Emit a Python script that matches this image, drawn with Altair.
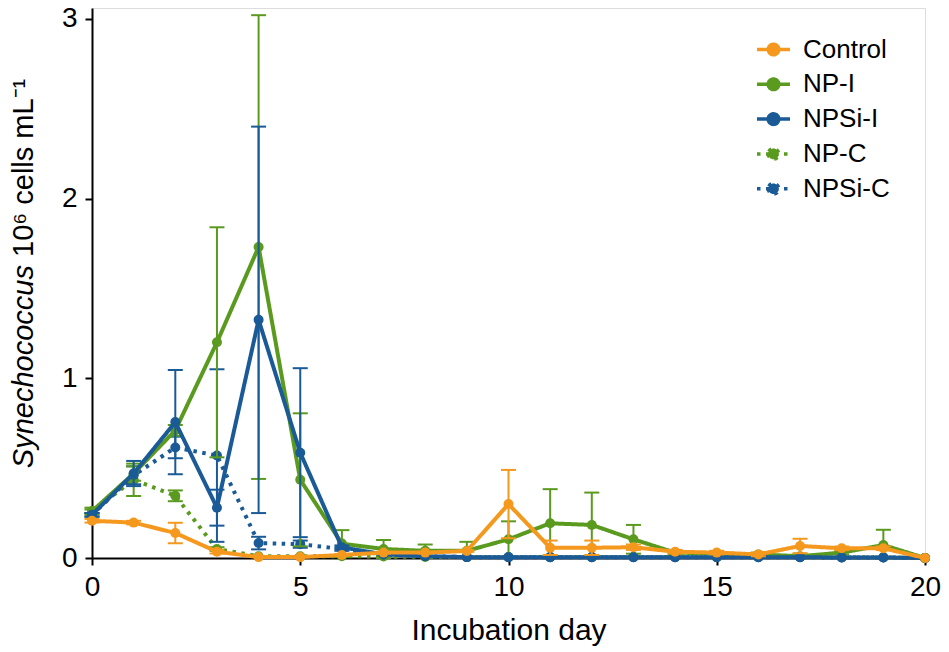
import altair as alt
import pandas as pd

days = list(range(21))

series_names = ["Control", "NP-I", "NPSi-I", "NP-C", "NPSi-C"]
series_colors = ["#F5981E", "#5A9A1E", "#1A5A96", "#5A9A1E", "#1A5A96"]
series_dash = [[1, 0], [1, 0], [1, 0], [3.5, 5.5], [3.5, 5.5]]
draw_order = ["NP-C", "NPSi-C", "NP-I", "NPSi-I", "Control"]

control = [0.207, 0.197, 0.139, 0.035, 0.005, 0.005, 0.017, 0.03, 0.03, 0.039, 0.30,
           0.057, 0.057, 0.06, 0.035, 0.03, 0.02, 0.067, 0.054, 0.054, 0.0]
control_err = [0.01, 0.01, 0.057, 0.01, 0.0, 0.0, 0.005, 0.005, 0.005, 0.005, 0.19,
               0.04, 0.04, 0.015, 0.01, 0.01, 0.01, 0.04, 0.01, 0.01, 0.0]

np_i = [0.26, 0.47, 0.71, 1.20, 1.73, 0.435, 0.08, 0.05, 0.04, 0.04, 0.104,
        0.193, 0.184, 0.104, 0.03, 0.025, 0.02, 0.01, 0.03, 0.072, 0.0]
np_i_err = [0.02, 0.04, 0.03, 0.64, 1.29, 0.37, 0.075, 0.05, 0.035, 0.05, 0.10,
            0.19, 0.18, 0.08, 0.01, 0.01, 0.01, 0.01, 0.01, 0.085, 0.0]

npsi_i = [0.24, 0.47, 0.756, 0.28, 1.325, 0.586, 0.06, 0.02, 0.01, 0.005, 0.004,
          0.004, 0.004, 0.004, 0.004, 0.004, 0.004, 0.004, 0.003, 0.003, 0.0]
npsi_i_err = [0.01, 0.07, 0.29, 0.10, 1.075, 0.47, 0.01, 0.0, 0.0, 0.0, 0.0,
              0.0, 0.0, 0.0, 0.0, 0.0, 0.0, 0.0, 0.0, 0.0, 0.0]

np_c = [0.26, 0.435, 0.346, 0.05, 0.01, 0.01, 0.01, 0.008, 0.006, 0.005, 0.005,
        0.005, 0.005, 0.005, 0.005, 0.005, 0.005, 0.005, 0.004, 0.004, 0.0]
np_c_err = [0.01, 0.09, 0.03, 0.01, 0.0, 0.0, 0.0, 0.0, 0.0, 0.0, 0.0,
            0.0, 0.0, 0.0, 0.0, 0.0, 0.0, 0.0, 0.0, 0.0, 0.0]

npsi_c = [0.24, 0.46, 0.615, 0.57, 0.083, 0.077, 0.05, 0.02, 0.01, 0.005, 0.004,
          0.004, 0.004, 0.004, 0.004, 0.004, 0.004, 0.004, 0.003, 0.003, 0.0]
npsi_c_err = [0.01, 0.05, 0.06, 0.48, 0.035, 0.02, 0.01, 0.0, 0.0, 0.0, 0.0,
              0.0, 0.0, 0.0, 0.0, 0.0, 0.0, 0.0, 0.0, 0.0, 0.0]

values = {"Control": (control, control_err), "NP-I": (np_i, np_i_err),
          "NPSi-I": (npsi_i, npsi_i_err), "NP-C": (np_c, np_c_err),
          "NPSi-C": (npsi_c, npsi_c_err)}

rows = []
for name, (vals, errs) in values.items():
    for d, v, e in zip(days, vals, errs):
        rows.append({"series": name, "day": d, "value": v, "err": e,
                     "lo": max(0.0, v - e), "hi": v + e})
df = pd.DataFrame(rows)

FONT = "Liberation Sans"
color_of = dict(zip(series_names, series_colors))

x_enc = alt.X("day:Q", scale=alt.Scale(domain=[0, 20], nice=False),
              axis=alt.Axis(values=[0, 5, 10, 15, 20], title="Incubation day", format="d",
                            labelFont=FONT, labelFontSize=28, labelColor="black", labelPadding=8,
                            labelFlush=False,
                            titleFont=FONT, titleFontSize=30, titleFontWeight="normal",
                            titleColor="black", titlePadding=14,
                            domainColor="black", domainWidth=2, tickColor="black",
                            tickWidth=2, tickSize=7, grid=False))
y_axis = alt.Axis(values=[0, 1, 2, 3], title=None, format="d",
                  labelFont=FONT, labelFontSize=28, labelColor="black", labelPadding=8,
                  labelFlush=False,
                  domainColor="black", domainWidth=2, tickColor="black",
                  tickWidth=2, tickSize=7, grid=False)
y_scale = alt.Scale(domain=[0, 3.06], nice=False)

legend = alt.Legend(
    title=None, orient="none", legendX=663, legendY=23, padding=0,
    symbolType="M-1,0L1,0M-0.32,0A0.32,0.32 0 1,0 0.32,0A0.32,0.32 0 1,0 -0.32,0Z",
    symbolSize=1089, symbolStrokeWidth=3.5, labelFont=FONT, labelFontSize=26,
    labelColor="black", labelOffset=11, rowPadding=2.8)

color_enc = alt.Color("series:N", scale=alt.Scale(domain=series_names, range=series_colors),
                      legend=legend)
fill_enc = alt.Fill("series:N", scale=alt.Scale(domain=series_names, range=series_colors),
                    legend=legend)
dash_enc = alt.StrokeDash("series:N", scale=alt.Scale(domain=series_names, range=series_dash),
                          legend=legend)

base = alt.Chart(df)
layers = []
for name in draw_order:
    c = color_of[name]
    sub = base.transform_filter(alt.datum.series == name)
    errsub = sub.transform_filter(alt.datum.err > 0)
    layers.append(errsub.mark_rule(color=c, strokeWidth=2).encode(
        x=x_enc, y=alt.Y("lo:Q", scale=y_scale, axis=y_axis), y2="hi:Q"))
    layers.append(errsub.mark_rule(color=c, strokeWidth=2, xOffset=-7.5, x2Offset=7.5).encode(
        x=x_enc, x2="day:Q", y=alt.Y("hi:Q", scale=y_scale, axis=y_axis)))
    layers.append(errsub.mark_rule(color=c, strokeWidth=2, xOffset=-7.5, x2Offset=7.5).encode(
        x=x_enc, x2="day:Q", y=alt.Y("lo:Q", scale=y_scale, axis=y_axis)))
    layers.append(sub.mark_line(strokeWidth=4).encode(
        x=x_enc, y=alt.Y("value:Q", scale=y_scale, axis=y_axis),
        color=color_enc, strokeDash=dash_enc))
    layers.append(sub.mark_circle(size=100, opacity=1).encode(
        x=x_enc, y=alt.Y("value:Q", scale=y_scale, axis=y_axis), fill=fill_enc))

title_a = alt.Chart(pd.DataFrame({"t": ["Synechococcus"]})).mark_text(
    angle=270, align="right", baseline="alphabetic", font=FONT, fontSize=29,
    fontStyle="italic", color="black").encode(text="t:N", x=alt.value(-59), y=alt.value(257))
title_b = alt.Chart(pd.DataFrame({"t": ["10\u2076 cells mL\u207b\u00b9"]})).mark_text(
    angle=270, align="left", baseline="alphabetic", font=FONT, fontSize=29,
    color="black").encode(text="t:N", x=alt.value(-59), y=alt.value(249))

chart = alt.layer(*layers, title_a, title_b).properties(
    width=833, height=550,
    padding={"left": 84, "top": 0, "right": 16, "bottom": 98},
    autosize=alt.AutoSizeParams(type="none"),
).configure_view(stroke=None).configure(background="white")

chart.save("out.html", embed_options={"renderer": "svg", "actions": False})
